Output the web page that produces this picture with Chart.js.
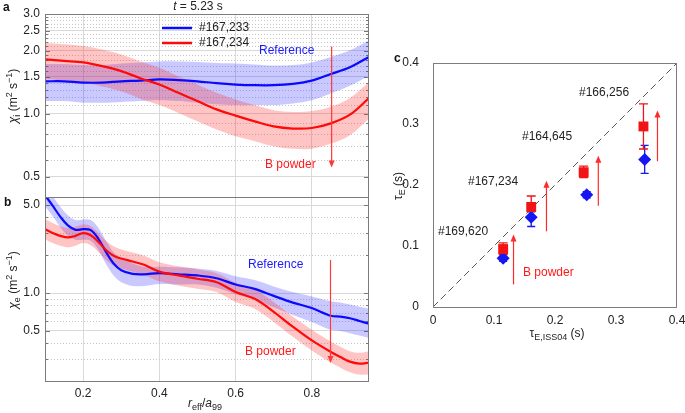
<!DOCTYPE html>
<html>
<head>
<meta charset="utf-8">
<title>Heat diffusivity profiles and confinement time</title>
<script src="https://cdn.jsdelivr.net/npm/chart.js"></script>
<style>
  body { margin: 0; background: #fff; }
  #wrap { position: relative; width: 685px; height: 413px; }
  canvas { position: absolute; left: 0; top: 0; }
</style>
</head>
<body>
<div id="wrap">
  <canvas id="chartA" width="685" height="413"></canvas>
  <canvas id="chartB" width="685" height="413"></canvas>
  <canvas id="chartC" width="685" height="413"></canvas>
</div>
<script>
// ---- panel a: chi_i profile ----
const rA = [0.10, 0.15, 0.20, 0.25, 0.30, 0.35, 0.40, 0.45, 0.50, 0.55, 0.60, 0.65, 0.70, 0.75, 0.80, 0.85, 0.90, 0.95];
const chiIRef   = [1.43, 1.43, 1.41, 1.41, 1.43, 1.44, 1.46, 1.45, 1.43, 1.40, 1.38, 1.37, 1.37, 1.39, 1.44, 1.55, 1.67, 1.87];
const chiIRefHi = [1.73, 1.73, 1.71, 1.71, 1.74, 1.76, 1.78, 1.78, 1.77, 1.75, 1.74, 1.72, 1.70, 1.71, 1.76, 1.87, 2.01, 2.25];
const chiIRefLo = [1.15, 1.15, 1.13, 1.13, 1.14, 1.15, 1.16, 1.15, 1.13, 1.11, 1.10, 1.10, 1.10, 1.12, 1.16, 1.25, 1.36, 1.52];
const chiIB     = [1.82, 1.79, 1.76, 1.69, 1.60, 1.48, 1.38, 1.26, 1.15, 1.05, 0.98, 0.92, 0.87, 0.85, 0.855, 0.90, 0.99, 1.19];
const chiIBHi   = [2.18, 2.15, 2.11, 2.03, 1.92, 1.78, 1.66, 1.51, 1.38, 1.26, 1.17, 1.10, 1.04, 1.02, 1.03, 1.08, 1.19, 1.42];
const chiIBLo   = [1.47, 1.44, 1.41, 1.35, 1.28, 1.18, 1.10, 1.01, 0.92, 0.84, 0.78, 0.74, 0.70, 0.68, 0.68, 0.72, 0.79, 0.95];
const yTicksA = [0.5, 1.0, 1.5, 2.0, 2.5, 3.0];
const yMinorA = [0.6, 0.7, 0.8, 0.9, 1.1, 1.2, 1.3, 1.4, 1.6, 1.7, 1.8, 1.9, 2.1, 2.2, 2.3, 2.4, 2.6, 2.7, 2.8, 2.9];

// ---- panel b: chi_e profile ----
const rB = [0.10, 0.12, 0.14, 0.16, 0.18, 0.20, 0.22, 0.24, 0.26, 0.28, 0.30, 0.33, 0.36, 0.40, 0.45, 0.50, 0.55, 0.60, 0.65, 0.70, 0.75, 0.80, 0.85, 0.875, 0.90, 0.925, 0.95];
const chiERef   = [6.0, 4.95, 4.05, 3.45, 3.18, 3.22, 3.16, 2.70, 2.12, 1.72, 1.52, 1.42, 1.41, 1.44, 1.41, 1.38, 1.31, 1.17, 1.08, 0.95, 0.84, 0.76, 0.66, 0.65, 0.63, 0.60, 0.57];
const chiERefHi = [7.2, 5.9, 4.85, 4.15, 3.8, 3.85, 3.8, 3.3, 2.6, 2.1, 1.88, 1.72, 1.62, 1.62, 1.6, 1.57, 1.5, 1.36, 1.27, 1.13, 1.02, 0.94, 0.86, 0.84, 0.81, 0.78, 0.75];
const chiERefLo = [4.9, 4.1, 3.35, 2.85, 2.65, 2.65, 2.6, 2.2, 1.7, 1.38, 1.22, 1.14, 1.14, 1.18, 1.17, 1.17, 1.1, 0.98, 0.89, 0.77, 0.67, 0.59, 0.51, 0.50, 0.48, 0.46, 0.44];
const chiEB     = [3.22, 3.0, 2.85, 2.77, 2.85, 2.99, 2.88, 2.55, 2.2, 1.98, 1.88, 1.78, 1.68, 1.48, 1.38, 1.30, 1.22, 1.02, 0.90, 0.71, 0.54, 0.42, 0.34, 0.31, 0.285, 0.275, 0.28];
const chiEBHi   = [3.9, 3.6, 3.4, 3.3, 3.38, 3.5, 3.4, 3.02, 2.6, 2.35, 2.22, 2.1, 1.98, 1.76, 1.63, 1.54, 1.44, 1.21, 1.07, 0.85, 0.65, 0.51, 0.41, 0.375, 0.345, 0.335, 0.345];
const chiEBLo   = [2.68, 2.5, 2.38, 2.31, 2.38, 2.5, 2.4, 2.12, 1.83, 1.65, 1.57, 1.48, 1.4, 1.24, 1.15, 1.08, 1.02, 0.85, 0.75, 0.59, 0.45, 0.35, 0.28, 0.255, 0.235, 0.225, 0.225];
const yTicksB = [0.5, 1.0, 5.0];
const yMinorB = [0.3, 0.4, 0.6, 0.7, 0.8, 0.9, 2, 3, 4];
const rTicks = [0.2, 0.4, 0.6, 0.8];

// ---- panel c: confinement time ----
const tauIssB = [0.115, 0.161, 0.247, 0.345];
const tauB    = [0.095, 0.164, 0.221, 0.296];
const tauBLo  = [0.086, 0.146, 0.212, 0.259];
const tauBHi  = [0.105, 0.182, 0.231, 0.333];
const tauIssRef = [0.115, 0.161, 0.252, 0.347];
const tauRef    = [0.080, 0.147, 0.184, 0.242];
const tauRefLo  = [0.075, 0.132, 0.179, 0.219];
const tauRefHi  = [0.086, 0.156, 0.189, 0.265];
const shots = ['#169,620', '#167,234', '#164,645', '#166,256'];
const arrowX    = [0.132, 0.186, 0.271, 0.368];
const arrowFrom = [0.037, 0.124, 0.166, 0.239];
const arrowTo   = [0.119, 0.207, 0.248, 0.322];
const tauTicks = [0, 0.1, 0.2, 0.3, 0.4];

const FONT = "'Liberation Sans', Arial, Helvetica, sans-serif";
Chart.defaults.font.family = FONT;
Chart.defaults.font.size = 12;
Chart.defaults.color = '#222';
Chart.defaults.animation = false;
Chart.defaults.plugins.legend.display = false;
Chart.defaults.plugins.tooltip.enabled = false;

const BLUE = '#0a0aff', RED = '#ff0a0a';
const BLUE_BAND = 'rgba(30,30,255,0.24)', RED_BAND = 'rgba(255,30,30,0.26)';
const FRAME = '#7c7c7c', GRID = '#d9d9d9';

const xy = (xs, ys) => xs.map((x, i) => ({x: x, y: ys[i]}));

// text with italic / sub / superscript pieces, centred on (x, y)
function rich(ctx, parts, x, y, angle) {
  ctx.save();
  ctx.translate(x, y);
  ctx.rotate(angle || 0);
  const fonts = parts.map(p => (p.i ? 'italic ' : '') + (p.s ? 9 : 12) + 'px ' + FONT);
  let total = 0;
  parts.forEach((p, k) => { ctx.font = fonts[k]; total += ctx.measureText(p.t).width; });
  let cx = -total / 2;
  ctx.textAlign = 'left';
  ctx.textBaseline = 'alphabetic';
  ctx.fillStyle = '#222';
  parts.forEach((p, k) => {
    ctx.font = fonts[k];
    const dy = p.s === 'sub' ? 3 : p.s === 'sup' ? -5 : 0;
    ctx.fillText(p.t, cx, 4 + dy);
    cx += ctx.measureText(p.t).width;
  });
  ctx.restore();
}

function text(ctx, t, x, y, color, font) {
  ctx.font = font || '12px ' + FONT;
  ctx.fillStyle = color || '#222';
  ctx.textAlign = 'left';
  ctx.textBaseline = 'middle';
  ctx.fillText(t, x, y);
}

function arrowV(ctx, x, y1, y2, color) {
  const dir = y2 > y1 ? 1 : -1;
  ctx.strokeStyle = color;
  ctx.fillStyle = color;
  ctx.lineWidth = 1.2;
  ctx.beginPath(); ctx.moveTo(x, y1); ctx.lineTo(x, y2 - dir * 5); ctx.stroke();
  ctx.beginPath(); ctx.moveTo(x, y2); ctx.lineTo(x - 3, y2 - dir * 7); ctx.lineTo(x + 3, y2 - dir * 7); ctx.closePath(); ctx.fill();
}

function frame(chart) {
  const a = chart.chartArea, ctx = chart.ctx;
  ctx.save();
  ctx.strokeStyle = FRAME;
  ctx.lineWidth = 1;
  ctx.strokeRect(Math.round(a.left) + 0.5, Math.round(a.top) + 0.5, Math.round(a.right - a.left) - 1, Math.round(a.bottom - a.top));
  ctx.restore();
}

function minorGrid(chart, minor, major) {
  const a = chart.chartArea, ctx = chart.ctx, ys = chart.scales.y;
  ctx.save();
  ctx.strokeStyle = '#c6c6c6';
  ctx.lineWidth = 1;
  ctx.setLineDash([1, 2]);
  minor.forEach(v => {
    const py = Math.round(ys.getPixelForValue(v)) + 0.5;
    ctx.beginPath(); ctx.moveTo(a.left, py); ctx.lineTo(a.right, py); ctx.stroke();
  });
  ctx.setLineDash([]);
  ctx.strokeStyle = '#777';
  minor.concat(major).forEach(v => {
    const py = Math.round(ys.getPixelForValue(v)) + 0.5;
    const len = major.includes(v) ? 5 : 3;
    ctx.beginPath();
    ctx.moveTo(a.left, py); ctx.lineTo(a.left + len, py);
    ctx.moveTo(a.right, py); ctx.lineTo(a.right - len, py);
    ctx.stroke();
  });
  ctx.restore();
}

function profileSets(xs, ref, refHi, refLo, bp, bpHi, bpLo) {
  const line = (d, c, o, label) => ({label: label, data: xy(xs, d), borderColor: c, borderWidth: 2.2, pointRadius: 0, tension: 0.35, fill: false, order: o});
  const edge = (d, fill, bg, o) => ({data: xy(xs, d), borderColor: 'transparent', borderWidth: 0, pointRadius: 0, tension: 0.35, fill: fill, backgroundColor: bg, order: o});
  return [
    line(bp, RED, 0, '#167,234'),
    line(ref, BLUE, 1, '#167,233'),
    edge(bpHi, '+1', RED_BAND, 2),
    edge(bpLo, false, RED_BAND, 3),
    edge(refHi, '+1', BLUE_BAND, 4),
    edge(refLo, false, BLUE_BAND, 5)
  ];
}

function profileOptions(o) {
  return {
    responsive: false,
    layout: {padding: o.pad},
    scales: {
      x: {
        type: 'linear', min: 0.1, max: 0.95,
        afterBuildTicks: s => { s.ticks = rTicks.map(v => ({value: v})); },
        afterFit: s => { s.height = o.xh; },
        grid: {color: GRID, drawTicks: false},
        border: {display: false},
        ticks: {display: o.xLabels, padding: 5, autoSkip: false, callback: v => v.toFixed(1)}
      },
      y: {
        type: 'logarithmic', min: o.min, max: o.max,
        afterBuildTicks: s => { s.ticks = o.ticks.map(v => ({value: v})); },
        afterFit: s => { s.width = 45; },
        grid: {color: GRID, drawTicks: false},
        border: {display: false},
        ticks: {padding: 5, autoSkip: false, callback: v => v.toFixed(1)}
      }
    }
  };
}

// panel a
new Chart(document.getElementById('chartA'), {
  type: 'line',
  data: {datasets: profileSets(rA, chiIRef, chiIRefHi, chiIRefLo, chiIB, chiIBHi, chiIBLo)},
  options: profileOptions({pad: {left: 0, top: 14, right: 316, bottom: 216}, xh: 0, xLabels: false, min: 0.4, max: 3.0, ticks: yTicksA}),
  plugins: [{
    id: 'decorA',
    beforeDatasetsDraw(chart) { minorGrid(chart, yMinorA, yTicksA); },
    afterDraw(chart) {
      const ctx = chart.ctx, xs = chart.scales.x, ys = chart.scales.y;
      frame(chart);
      ctx.save();
      text(ctx, 'a', 3, 8, '#111', 'bold 12px ' + FONT);
      rich(ctx, [{t: 't', i: 1}, {t: ' = 5.23 s'}], 198, 6);
      // legend
      ctx.lineWidth = 2.5;
      ctx.strokeStyle = BLUE; ctx.beginPath(); ctx.moveTo(162, 28); ctx.lineTo(192, 28); ctx.stroke();
      ctx.strokeStyle = RED; ctx.beginPath(); ctx.moveTo(162, 43); ctx.lineTo(192, 43); ctx.stroke();
      text(ctx, '#167,233', 199, 28);
      text(ctx, '#167,234', 199, 43);
      text(ctx, 'Reference', 259, 51, '#1a1aff');
      text(ctx, 'B powder', 265, 165, '#ff1a1a');
      const ax = xs.getPixelForValue(0.852);
      arrowV(ctx, ax, ys.getPixelForValue(2.10), ys.getPixelForValue(0.554), '#ff3838');
      rich(ctx, [{t: 'χ', i: 1}, {t: 'i', s: 'sub'}, {t: ' (m'}, {t: '2', s: 'sup'}, {t: ' s'}, {t: '−1', s: 'sup'}, {t: ')'}], 13, 96, -Math.PI / 2);
      ctx.restore();
    }
  }]
});

// panel b
new Chart(document.getElementById('chartB'), {
  type: 'line',
  data: {datasets: profileSets(rB, chiERef, chiERefHi, chiERefLo, chiEB, chiEBHi, chiEBLo)},
  options: profileOptions({pad: {left: 0, top: 197, right: 316, bottom: 12}, xh: 20, xLabels: true, min: 0.2, max: 5.8, ticks: yTicksB}),
  plugins: [{
    id: 'decorB',
    beforeDatasetsDraw(chart) { minorGrid(chart, yMinorB, yTicksB); },
    afterDraw(chart) {
      const ctx = chart.ctx, xs = chart.scales.x, ys = chart.scales.y;
      frame(chart);
      ctx.save();
      text(ctx, 'b', 4, 203, '#111', 'bold 12px ' + FONT);
      text(ctx, 'Reference', 248, 265, '#1a1aff');
      text(ctx, 'B powder', 245, 352, '#ff1a1a');
      const ax = xs.getPixelForValue(0.849);
      arrowV(ctx, ax, ys.getPixelForValue(1.83), ys.getPixelForValue(0.278), '#ff3838');
      rich(ctx, [{t: 'χ', i: 1}, {t: 'e', s: 'sub'}, {t: ' (m'}, {t: '2', s: 'sup'}, {t: ' s'}, {t: '−1', s: 'sup'}, {t: ')'}], 13, 280, -Math.PI / 2);
      rich(ctx, [{t: 'r', i: 1}, {t: 'eff', s: 'sub'}, {t: '/'}, {t: 'a', i: 1}, {t: '99', s: 'sub'}], 205, 403);
      ctx.restore();
    }
  }]
});

// panel c
new Chart(document.getElementById('chartC'), {
  type: 'scatter',
  data: {datasets: [
    {label: 'B powder', data: xy(tauIssB, tauB), pointStyle: 'rect', pointRadius: 7, backgroundColor: '#f01414', borderColor: '#f01414', borderWidth: 0, order: 0},
    {label: 'Reference', data: xy(tauIssRef, tauRef), pointStyle: 'rectRot', pointRadius: 6.5, backgroundColor: '#1616f5', borderColor: '#1616f5', borderWidth: 0, order: 1},
    {type: 'line', data: xy([tauTicks[0], tauTicks[4]], [tauTicks[0], tauTicks[4]]), borderColor: '#555', borderWidth: 1, borderDash: [7, 4], pointRadius: 0, fill: false, order: 2}
  ]},
  options: {
    responsive: false,
    layout: {padding: {left: 393, top: 63, right: 8, bottom: 86}},
    scales: {
      x: {
        type: 'linear', min: 0, max: 0.4,
        afterBuildTicks: s => { s.ticks = tauTicks.map(v => ({value: v})); },
        afterFit: s => { s.height = 20; },
        grid: {display: false},
        border: {display: false},
        ticks: {padding: -2, autoSkip: false, callback: v => v === 0 ? '0' : v.toFixed(1)}
      },
      y: {
        type: 'linear', min: 0, max: 0.4,
        afterBuildTicks: s => { s.ticks = tauTicks.map(v => ({value: v})); },
        afterFit: s => { s.width = 40; },
        grid: {display: false},
        border: {display: false},
        ticks: {padding: 6, autoSkip: false, callback: v => v === 0 ? '0' : v.toFixed(1)}
      }
    }
  },
  plugins: [{
    id: 'decorC',
    beforeDatasetsDraw(chart) {
      const ctx = chart.ctx, xs = chart.scales.x, ys = chart.scales.y;
      ctx.save();
      ctx.lineWidth = 1.3;
      const bars = (X, lo, hi, color, cap) => {
        ctx.strokeStyle = color;
        X.forEach((x, i) => {
          const px = xs.getPixelForValue(x), p1 = ys.getPixelForValue(lo[i]), p2 = ys.getPixelForValue(hi[i]);
          ctx.beginPath();
          ctx.moveTo(px, p1); ctx.lineTo(px, p2);
          ctx.moveTo(px - cap, p1); ctx.lineTo(px + cap, p1);
          ctx.moveTo(px - cap, p2); ctx.lineTo(px + cap, p2);
          ctx.stroke();
        });
      };
      bars(tauIssRef, tauRefLo, tauRefHi, '#1616f5', 4);
      bars(tauIssB, tauBLo, tauBHi, '#f01414', 4.5);
      ctx.restore();
    },
    afterDraw(chart) {
      const ctx = chart.ctx, xs = chart.scales.x, ys = chart.scales.y;
      frame(chart);
      ctx.save();
      arrowX.forEach((x, i) => {
        arrowV(ctx, xs.getPixelForValue(x), ys.getPixelForValue(arrowFrom[i]), ys.getPixelForValue(arrowTo[i]), '#ff2a2a');
      });
      text(ctx, shots[0], 438, 232);
      text(ctx, shots[1], 468, 182);
      text(ctx, shots[2], 522, 137);
      text(ctx, shots[3], 579, 93);
      text(ctx, 'B powder', 523, 273, '#ff1a1a');
      text(ctx, 'c', 394, 59, '#111', 'bold 12px ' + FONT);
      rich(ctx, [{t: 'τ'}, {t: 'E', s: 'sub'}, {t: ' (s)'}], 398, 186, -Math.PI / 2);
      rich(ctx, [{t: 'τ'}, {t: 'E,ISS04', s: 'sub'}, {t: ' (s)'}], 557, 333);
      ctx.restore();
    }
  }]
});
</script>
</body>
</html>
